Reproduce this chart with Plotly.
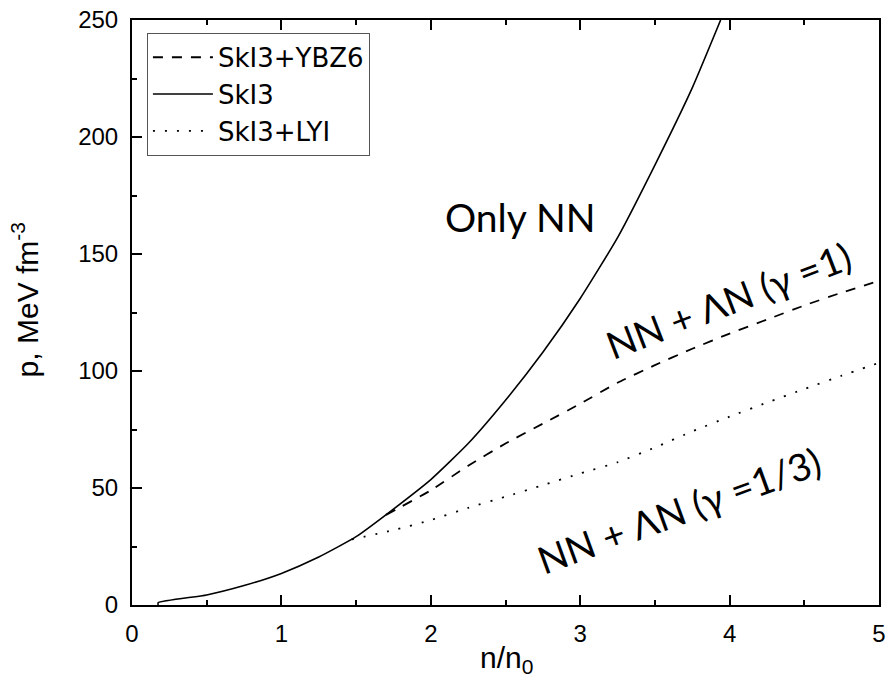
import plotly.graph_objects as go

# SkI3 (only NN)
n_ski3 = [0.175, 0.175, 0.5, 0.75, 1.0, 1.25, 1.5, 1.75, 2.0, 2.25, 2.5, 2.75, 3.0, 3.25, 3.5, 3.75, 3.94]
p_ski3 = [0.0, 1.0, 4.3, 8.3, 13.5, 20.5, 29.2, 41.0, 53.6, 69.0, 87.5, 108.0, 131.0, 157.0, 188.0, 221.0, 250.0]

# SkI3+YBZ6
n_ybz6 = [1.7, 2.0, 2.25, 2.5, 2.75, 3.0, 3.25, 3.5, 3.75, 4.0, 4.25, 4.5, 4.75, 5.0]
p_ybz6 = [38.5, 49.0, 59.5, 69.0, 77.5, 86.0, 95.0, 102.5, 109.5, 116.0, 122.0, 128.0, 133.5, 138.5]

# SkI3+LYI
n_lyi = [1.47, 1.75, 2.0, 2.25, 2.5, 2.75, 3.0, 3.25, 3.5, 3.75, 4.0, 4.25, 4.5, 4.75, 5.0]
p_lyi = [28.0, 32.0, 36.3, 41.5, 46.3, 51.2, 56.2, 61.0, 67.3, 74.2, 80.5, 86.5, 92.3, 98.0, 103.5]

x_ticks = [0, 1, 2, 3, 4, 5]
y_ticks = [0, 50, 100, 150, 200, 250]

fig = go.Figure()
fig.add_trace(go.Scatter(x=n_ybz6, y=p_ybz6, mode="lines", name="SkI3+YBZ6", legendgroup="a",
                         line=dict(color="black", width=1.8, dash="10px,9px", shape="spline", smoothing=0.5)))
fig.add_trace(go.Scatter(x=n_ski3, y=p_ski3, mode="lines", name="SkI3", legendgroup="b",
                         line=dict(color="black", width=1.6, shape="spline", smoothing=0.5)))
fig.add_trace(go.Scatter(x=n_lyi, y=p_lyi, mode="lines", name="SkI3+LYI", legendgroup="c",
                         line=dict(color="black", width=1.8, dash="2px,10px", shape="spline", smoothing=0.5)))

tickfont = dict(family="Liberation Sans, Arial", size=24, color="black")
fig.update_xaxes(range=[0, 5], tickvals=x_ticks, ticktext=[str(v) for v in x_ticks],
                 ticks="inside", ticklen=10, tickwidth=1.5, tickcolor="black",
                 minor=dict(dtick=0.5, ticks="inside", ticklen=5, tickwidth=1.5, tickcolor="black"),
                 showline=True, linecolor="black", linewidth=2, mirror="ticks",
                 showgrid=False, zeroline=False, tickfont=tickfont, ticklabelstandoff=6,
                 ticklabeloverflow="allow")
fig.update_yaxes(range=[0, 250], tickvals=y_ticks, ticktext=[str(v) for v in y_ticks],
                 ticks="inside", ticklen=10, tickwidth=1.5, tickcolor="black",
                 minor=dict(dtick=25, ticks="inside", ticklen=5, tickwidth=1.5, tickcolor="black"),
                 showline=True, linecolor="black", linewidth=2, mirror=True,
                 showgrid=False, zeroline=False, tickfont=tickfont, ticklabelstandoff=7)

ann_font = dict(family="Lato, Noto Sans", size=39, color="black")
fig.add_annotation(x=2.6, y=166, text="Only NN", showarrow=False, font=ann_font,
                   xanchor="center", yanchor="middle")
fig.add_annotation(x=3.99, y=130.3, text="NN + ΛN (γ =1)", showarrow=False, font=dict(ann_font, size=38),
                   textangle=-21, xanchor="center", yanchor="middle")
fig.add_annotation(x=3.66, y=40.5, text="NN + ΛN (γ =1/3)", showarrow=False, font=dict(ann_font, size=38),
                   textangle=-20, xanchor="center", yanchor="middle")

title_font = dict(family="Liberation Sans, Arial", size=30, color="black")
fig.add_annotation(xref="paper", yref="paper", x=-0.143, y=0.521, text="p, MeV fm<sup>-3</sup>",
                   showarrow=False, textangle=-90, font=title_font, xanchor="center", yanchor="middle")
fig.add_annotation(xref="paper", yref="paper", x=0.502, y=-0.094, text="n/n<sub>0</sub>",
                   showarrow=False, font=title_font, xanchor="center", yanchor="middle")

fig.update_layout(
    width=891, height=697,
    margin=dict(l=132, r=5, t=20, b=92),
    paper_bgcolor="white", plot_bgcolor="white",
    legend=dict(x=0.02, y=0.978, xanchor="left", yanchor="top",
                bgcolor="white", bordercolor="#555", borderwidth=1,
                font=dict(family="DejaVu Sans", size=26, color="black"),
                traceorder="grouped", tracegroupgap=0, itemwidth=60),
    showlegend=True,
)

fig.write_html("out.html")
